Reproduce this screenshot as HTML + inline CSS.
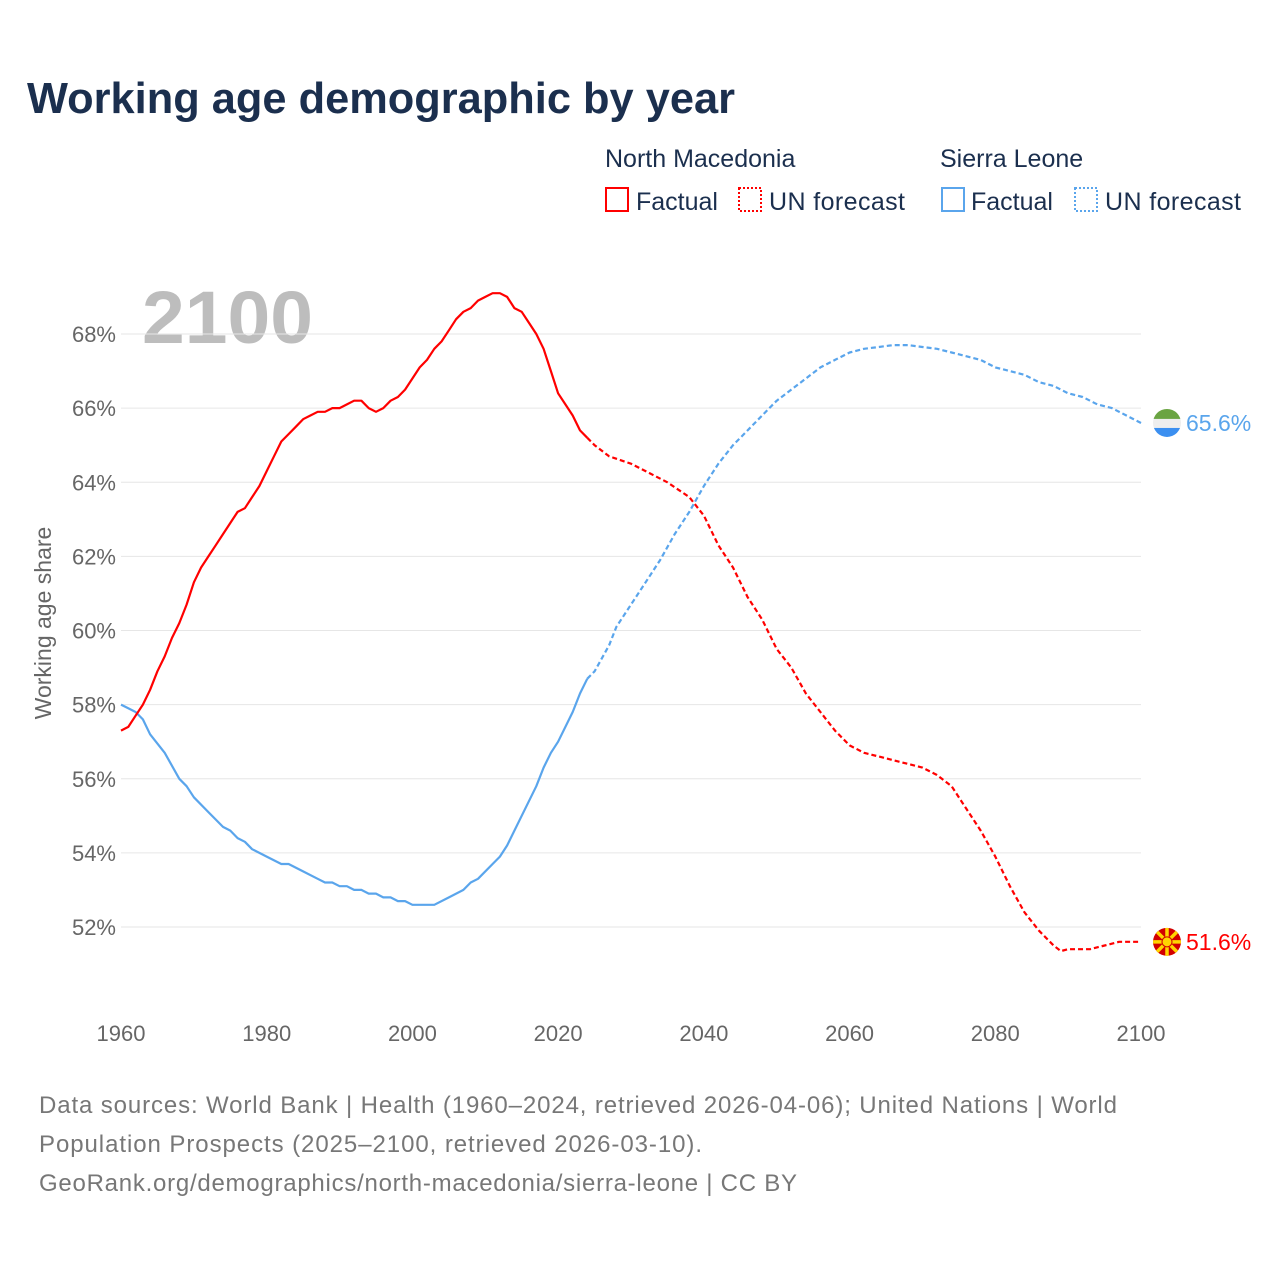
<!DOCTYPE html>
<html><head><meta charset="utf-8">
<style>
body{margin:0;background:#fff;}
svg{display:block;font-family:"Liberation Sans",sans-serif;}
</style></head>
<body>
<svg id="chart" width="1280" height="1280" viewBox="0 0 1280 1280">
<text x="27" y="113" font-size="44" font-weight="bold" fill="#1b2f4e" textLength="708" lengthAdjust="spacingAndGlyphs">Working age demographic by year</text>
<g font-size="25" fill="#1b2f4e">
<text x="605" y="167">North Macedonia</text>
<text x="940" y="167">Sierra Leone</text>
<rect x="606" y="188" width="22" height="23" fill="none" stroke="#f00" stroke-width="2"/>
<text x="636" y="210">Factual</text>
<rect x="739" y="188" width="22" height="23" fill="none" stroke="#f00" stroke-width="2" stroke-dasharray="2,2"/>
<text x="769" y="210" textLength="136">UN forecast</text>
<rect x="942" y="188" width="22" height="23" fill="none" stroke="#5aa5ec" stroke-width="2"/>
<text x="971" y="210">Factual</text>
<rect x="1075" y="188" width="22" height="23" fill="none" stroke="#5aa5ec" stroke-width="2" stroke-dasharray="2,2"/>
<text x="1105" y="210" textLength="136">UN forecast</text>
</g>
<text x="142" y="343" font-size="74" font-weight="bold" fill="#bdbdbd" textLength="171" lengthAdjust="spacingAndGlyphs">2100</text>
<text transform="translate(51,623) rotate(-90)" text-anchor="middle" font-size="23" fill="#666">Working age share</text>
<g id="grid"></g>
<g id="series"></g>
<g font-size="24" fill="#777">
<text x="39" y="1113" textLength="1078">Data sources: World Bank | Health (1960–2024, retrieved 2026-04-06); United Nations | World</text>
<text x="39" y="1152" textLength="663">Population Prospects (2025–2100, retrieved 2026-03-10).</text>
<text x="39" y="1191" textLength="758">GeoRank.org/demographics/north-macedonia/sierra-leone | CC BY</text>
</g>
</svg>
<script>
const yTicks=[52,54,56,58,60,62,64,66,68];
const xTicks=[1960,1980,2000,2020,2040,2060,2080,2100];
const mkFactYears=[1960,1961,1962,1963,1964,1965,1966,1967,1968,1969,1970,1971,1972,1973,1974,1975,1976,1977,1978,1979,1980,1981,1982,1983,1984,1985,1986,1987,1988,1989,1990,1991,1992,1993,1994,1995,1996,1997,1998,1999,2000,2001,2002,2003,2004,2005,2006,2007,2008,2009,2010,2011,2012,2013,2014,2015,2016,2017,2018,2019,2020,2021,2022,2023,2024];
const mkFactValues=[57.3,57.4,57.7,58.0,58.4,58.9,59.3,59.8,60.2,60.7,61.3,61.7,62.0,62.3,62.6,62.9,63.2,63.3,63.6,63.9,64.3,64.7,65.1,65.3,65.5,65.7,65.8,65.9,65.9,66.0,66.0,66.1,66.2,66.2,66.0,65.9,66.0,66.2,66.3,66.5,66.8,67.1,67.3,67.6,67.8,68.1,68.4,68.6,68.7,68.9,69.0,69.1,69.1,69.0,68.7,68.6,68.3,68.0,67.6,67.0,66.4,66.1,65.8,65.4,65.2];
const mkFcYears=[2024,2025,2027,2030,2035,2038,2040,2042,2044,2046,2048,2050,2052,2054,2056,2058,2060,2062,2064,2066,2068,2070,2072,2074,2076,2078,2080,2082,2084,2086,2088,2089,2090,2093,2095,2097,2100];
const mkFcValues=[65.2,65.0,64.7,64.5,64.0,63.6,63.1,62.3,61.7,60.9,60.3,59.5,59.0,58.3,57.8,57.3,56.9,56.7,56.6,56.5,56.4,56.3,56.1,55.8,55.2,54.6,53.9,53.1,52.4,51.9,51.5,51.35,51.4,51.4,51.5,51.6,51.6];
const slFactYears=[1960,1962,1963,1964,1966,1968,1969,1970,1972,1974,1975,1976,1977,1978,1980,1982,1983,1985,1987,1988,1989,1990,1991,1992,1993,1994,1995,1996,1997,1998,1999,2000,2003,2005,2007,2008,2009,2011,2012,2013,2015,2017,2018,2019,2020,2022,2023,2024];
const slFactValues=[58.0,57.8,57.6,57.2,56.7,56.0,55.8,55.5,55.1,54.7,54.6,54.4,54.3,54.1,53.9,53.7,53.7,53.5,53.3,53.2,53.2,53.1,53.1,53.0,53.0,52.9,52.9,52.8,52.8,52.7,52.7,52.6,52.6,52.8,53.0,53.2,53.3,53.7,53.9,54.2,55.0,55.8,56.3,56.7,57.0,57.8,58.3,58.7];
const slFcYears=[2024,2025,2027,2028,2030,2032,2034,2036,2038,2040,2042,2044,2046,2048,2050,2052,2054,2056,2058,2060,2062,2064,2066,2068,2070,2072,2074,2076,2078,2080,2082,2084,2086,2088,2090,2092,2094,2096,2098,2100];
const slFcValues=[58.7,58.9,59.6,60.1,60.7,61.3,61.9,62.6,63.2,63.9,64.5,65.0,65.4,65.8,66.2,66.5,66.8,67.1,67.3,67.5,67.6,67.65,67.7,67.7,67.65,67.6,67.5,67.4,67.3,67.1,67.0,66.9,66.7,66.6,66.4,66.3,66.1,66.0,65.8,65.6];

const NS='http://www.w3.org/2000/svg';
const X0=121,X1=1141,Y68=334,Y52=927;
function xs(yr){return X0+(yr-1960)*(X1-X0)/140;}
function ys(v){return Y52-(v-52)*(Y52-Y68)/16;}
function mk(tag,attrs,parent){const e=document.createElementNS(NS,tag);for(const k in attrs)e.setAttribute(k,attrs[k]);parent.appendChild(e);return e;}
const grid=document.getElementById('grid');
yTicks.forEach(v=>{
  const l=mk('line',{x1:X0,x2:X1,y1:ys(v),y2:ys(v),stroke:'#e6e6e6','stroke-width':1},grid);
  
  
  const t=mk('text',{x:116,y:ys(v)+8,'text-anchor':'end','font-size':22,fill:'#666'},grid);
  t.textContent=v+'%';
  
  
});
xTicks.forEach(yr=>{
  const t=mk('text',{x:xs(yr),y:1041,'text-anchor':'middle','font-size':22,fill:'#666'},grid);
  t.textContent=yr;
  
  
});
const ser=document.getElementById('series');
function line(years,vals,color,dash,name){
  const d=years.map((y,i)=>(i?'L':'M')+xs(y).toFixed(1)+','+ys(vals[i]).toFixed(1)).join(' ');
  const p=mk('path',{d:d,fill:'none',stroke:color,'stroke-width':2.2,'stroke-linejoin':'round'},ser);
  if(dash)p.setAttribute('stroke-dasharray','5,3');
  
  
}
line(slFactYears,slFactValues,'#5aa5ec',false,'sierra-leone-factual-line');
line(slFcYears,slFcValues,'#5aa5ec',true,'sierra-leone-forecast-line');
line(mkFactYears,mkFactValues,'#f00',false,'north-macedonia-factual-line');
line(mkFcYears,mkFcValues,'#f00',true,'north-macedonia-forecast-line');

const slEnd=slFcValues[slFcValues.length-1], mkEnd=mkFcValues[mkFcValues.length-1];
const cx=1167;
const defs=mk('defs',{},ser);
const cp=mk('clipPath',{id:'slclip'},defs);mk('circle',{cx:cx,cy:ys(slEnd),r:14},cp);
const cp2=mk('clipPath',{id:'mkclip'},defs);mk('circle',{cx:cx,cy:ys(mkEnd),r:14},cp2);
const sl=mk('g',{'clip-path':'url(#slclip)'},ser);


const sy=ys(slEnd);
mk('rect',{x:cx-14,y:sy-14,width:28,height:10,fill:'#6aa442'},sl);
mk('rect',{x:cx-14,y:sy-4,width:28,height:9,fill:'#eeeeee'},sl);
mk('rect',{x:cx-14,y:sy+5,width:28,height:10,fill:'#3b8ff0'},sl);
const mg=mk('g',{'clip-path':'url(#mkclip)'},ser);


const my=ys(mkEnd);
mk('rect',{x:cx-14,y:my-14,width:28,height:28,fill:'#d20000'},mg);
for(let a=0;a<8;a++){const ang=a*Math.PI/4;mk('line',{x1:cx,y1:my,x2:cx+20*Math.cos(ang),y2:my+20*Math.sin(ang),stroke:'#ffd500','stroke-width':3.5},mg);}
mk('circle',{cx:cx,cy:my,r:5,fill:'#ffd500',stroke:'#d20000','stroke-width':1},mg);
const t1=mk('text',{x:1186,y:sy+8,'font-size':23,fill:'#5aa5ec'},ser);
t1.textContent=slEnd.toFixed(1)+'%';


const t2=mk('text',{x:1186,y:my+8,'font-size':23,fill:'#f00'},ser);
t2.textContent=mkEnd.toFixed(1)+'%';


</script>
</body></html>
